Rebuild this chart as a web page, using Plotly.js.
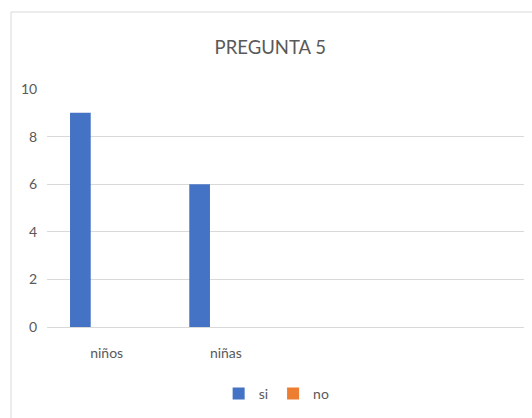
<!DOCTYPE html>
<html>
<head>
<meta charset="utf-8">
<script src="https://cdn.plot.ly/plotly-3.0.1.min.js"></script>
<style>html,body{margin:0;padding:0;background:#fff;}#chart{width:532px;height:418px;}</style>
</head>
<body>
<div id="chart"></div>
<script>
const categories = ["niños", "niñas"];
const siValues = [9, 6];
const noValues = [0, 0];
const yTicks = [0, 2, 4, 6, 8, 10];
const chartTitle = "PREGUNTA 5";

const FONT = "Lato, 'Open Sans', sans-serif";
const barW = 0.1736;
const traces = [
  {type: 'bar', name: 'si', x: categories, y: siValues, marker: {color: '#4472C4'},
   width: barW, offset: -0.307, hoverinfo: 'none'},
  {type: 'bar', name: 'no', x: categories, y: noValues, marker: {color: '#ED7D31'},
   width: barW, offset: -0.307 + barW + 0.047, hoverinfo: 'none'}
];

const layout = {
  width: 532, height: 418,
  margin: {l: 47, r: 8, t: 89, b: 91},
  paper_bgcolor: '#ffffff', plot_bgcolor: '#ffffff',
  font: {family: FONT, color: '#595959', size: 14},
  title: {text: chartTitle, font: {family: FONT, size: 18.5, color: '#595959'},
          xref: 'container', x: 0.508, xanchor: 'center', yref: 'container', y: 1 - 48/418, yanchor: 'middle'},
  barmode: 'group',
  showlegend: true,
  legend: {orientation: 'h', xref: 'container', x: 0.52, xanchor: 'center', yref: 'container', y: 1 - 394/418, yanchor: 'middle',
           font: {family: FONT, size: 14, color: '#595959'}, itemwidth: 30, tracegroupgap: 0},
  xaxis: {type: 'category', range: [-0.5, 3.5], showgrid: false, zeroline: false,
          showline: true, linecolor: '#d9d9d9', linewidth: 1,
          ticks: 'outside', ticklen: 13, tickcolor: 'rgba(0,0,0,0)',
          tickfont: {family: FONT, size: 14, color: '#595959'}, fixedrange: true},
  yaxis: {range: [0, 10], tickvals: yTicks, showgrid: true, gridcolor: '#d9d9d9', gridwidth: 1,
          zeroline: false, showline: false,
          ticks: 'outside', ticklen: 6, tickcolor: 'rgba(0,0,0,0)',
          tickfont: {family: FONT, size: 14, color: '#595959'}, fixedrange: true},
  shapes: [
    {type: 'line', xref: 'paper', yref: 'paper', x0: (11 - 47) / 477, x1: (11 - 47) / 477,
     y0: (327 - 12) / 238, y1: -0.5, line: {color: '#d9d9d9', width: 1}},
    {type: 'line', xref: 'paper', yref: 'paper', x0: (11 - 47) / 477, x1: 1.2,
     y0: (327 - 12) / 238, y1: (327 - 12) / 238, line: {color: '#d9d9d9', width: 1}}
  ]
};

Plotly.newPlot('chart', traces, layout, {displayModeBar: false, staticPlot: true});
</script>
</body>
</html>
